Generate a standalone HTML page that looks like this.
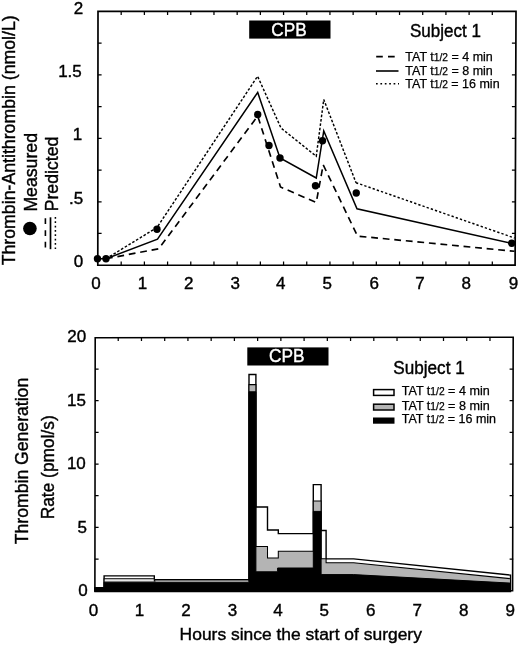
<!DOCTYPE html>
<html><head><meta charset="utf-8"><title>Figure</title>
<style>
html,body{margin:0;padding:0;background:#fff;}
body{width:520px;height:645px;overflow:hidden;font-family:"Liberation Sans", sans-serif;}
svg{display:block;will-change:transform;}
svg text{font-family:"Liberation Sans", sans-serif;}
</style></head><body>
<svg width="520" height="645" viewBox="0 0 520 645">
<rect width="520" height="645" fill="#fff"/>
<!-- top chart -->
<polyline points="106.00,258.75 158.75,248.75 257.70,116.00 280.50,187.00 316.25,202.50 323.20,164.80 357.50,236.10 514.50,251.30" fill="none" stroke="#000" stroke-width="1.65" stroke-dasharray="6.8 4.8" stroke-linejoin="miter"/>
<polyline points="106.00,258.75 157.00,227.50 257.60,76.25 281.00,128.00 316.25,156.25 323.75,99.50 356.00,182.70" fill="none" stroke="#000" stroke-width="1.45" stroke-dasharray="2.6 1.8" stroke-linejoin="miter"/>
<polyline points="356.00,182.70 514.50,238.00" fill="none" stroke="#000" stroke-width="1.45" stroke-dasharray="2.3 2.1"/>
<polyline points="106.00,258.75 157.50,239.25 257.70,92.40 280.00,158.00 316.25,178.00 323.75,131.00 357.00,208.75 512.50,243.50" fill="none" stroke="#000" stroke-width="1.5" stroke-linejoin="miter"/>
<line x1="97.5" y1="258.75" x2="106" y2="258.75" stroke="#000" stroke-width="1.5"/>
<circle cx="97.50" cy="258.75" r="3.7" fill="#000"/>
<circle cx="106.00" cy="258.75" r="3.7" fill="#000"/>
<circle cx="157.00" cy="229.25" r="3.7" fill="#000"/>
<circle cx="257.70" cy="114.50" r="3.7" fill="#000"/>
<circle cx="269.00" cy="145.50" r="3.7" fill="#000"/>
<circle cx="280.00" cy="158.00" r="3.7" fill="#000"/>
<circle cx="315.50" cy="185.75" r="3.7" fill="#000"/>
<circle cx="322.50" cy="140.75" r="3.7" fill="#000"/>
<circle cx="356.25" cy="193.00" r="3.7" fill="#000"/>
<circle cx="511.70" cy="243.25" r="3.7" fill="#000"/>
<polygon points="98,11.45 516,11.4 515.1,265.2 97.8,265.25" fill="none" stroke="#000" stroke-width="1.7"/>
<path d="M121.19 11.45v3.6M121.19 265.20v-3.6M144.39 11.45v3.6M144.39 265.20v-3.6M167.58 11.45v3.6M167.58 265.20v-3.6M190.78 11.45v3.6M190.78 265.20v-3.6M213.97 11.45v3.6M213.97 265.20v-3.6M237.17 11.45v3.6M237.17 265.20v-3.6M260.36 11.45v3.6M260.36 265.20v-3.6M283.56 11.45v3.6M283.56 265.20v-3.6M306.75 11.45v3.6M306.75 265.20v-3.6M329.94 11.45v3.6M329.94 265.20v-3.6M353.14 11.45v3.6M353.14 265.20v-3.6M376.33 11.45v3.6M376.33 265.20v-3.6M399.53 11.45v3.6M399.53 265.20v-3.6M422.72 11.45v3.6M422.72 265.20v-3.6M445.92 11.45v3.6M445.92 265.20v-3.6M469.11 11.45v3.6M469.11 265.20v-3.6M492.31 11.45v3.6M492.31 265.20v-3.6M98.00 43.17h3.6M515.50 43.17h-3.6M98.00 74.89h3.6M515.50 74.89h-3.6M98.00 106.61h3.6M515.50 106.61h-3.6M98.00 138.32h3.6M515.50 138.32h-3.6M98.00 170.04h3.6M515.50 170.04h-3.6M98.00 201.76h3.6M515.50 201.76h-3.6M98.00 233.48h3.6M515.50 233.48h-3.6" stroke="#000" stroke-width="1.25" fill="none"/>
<rect x="249.2" y="20.5" width="81.3" height="18.1" fill="#000"/>
<text x="271.30" y="35.60" font-size="18" textLength="35.4" lengthAdjust="spacingAndGlyphs" fill="#fff" stroke="#fff" stroke-width="0.4">CPB</text>
<text x="410.00" y="36.50" font-size="18" textLength="71" lengthAdjust="spacingAndGlyphs" fill="#000" stroke="#000" stroke-width="0.4">Subject 1</text>
<path d="M376.2 56.6h6.6M388 56.6h6.7" stroke="#000" stroke-width="1.7" fill="none"/>
<path d="M376 71h22.5" stroke="#000" stroke-width="1.6" fill="none"/>
<path d="M376 83.8h23" stroke="#000" stroke-width="1.5" stroke-dasharray="1.7 2.7" fill="none"/>
<text x="405.3" y="61" font-size="12.5" textLength="87.5" lengthAdjust="spacingAndGlyphs" stroke="#000" stroke-width="0.25">TAT t<tspan font-size="10.2">1/2</tspan> = 4 min</text>
<text x="405.3" y="74.5" font-size="12.5" textLength="87.5" lengthAdjust="spacingAndGlyphs" stroke="#000" stroke-width="0.25">TAT t<tspan font-size="10.2">1/2</tspan> = 8 min</text>
<text x="405.3" y="87.9" font-size="12.5" textLength="94.3" lengthAdjust="spacingAndGlyphs" stroke="#000" stroke-width="0.25">TAT t<tspan font-size="10.2">1/2</tspan> = 16 min</text>
<text x="83.30" y="13.85" font-size="17" text-anchor="end" fill="#000" stroke="#000" stroke-width="0.4">2</text>
<text x="81.80" y="77.29" font-size="17" text-anchor="end" fill="#000" stroke="#000" stroke-width="0.4">1.5</text>
<text x="82.10" y="140.32" font-size="17" text-anchor="end" fill="#000" stroke="#000" stroke-width="0.4">1</text>
<text x="83.30" y="204.46" font-size="17" text-anchor="end" fill="#000" stroke="#000" stroke-width="0.4">.5</text>
<text x="83.10" y="267.10" font-size="17" text-anchor="end" fill="#000" stroke="#000" stroke-width="0.4">0</text>
<text x="96.00" y="289.30" font-size="17" text-anchor="middle" fill="#000" stroke="#000" stroke-width="0.4">0</text>
<text x="142.39" y="289.30" font-size="17" text-anchor="middle" fill="#000" stroke="#000" stroke-width="0.4">1</text>
<text x="188.78" y="289.30" font-size="17" text-anchor="middle" fill="#000" stroke="#000" stroke-width="0.4">2</text>
<text x="235.17" y="289.30" font-size="17" text-anchor="middle" fill="#000" stroke="#000" stroke-width="0.4">3</text>
<text x="280.76" y="289.30" font-size="17" text-anchor="middle" fill="#000" stroke="#000" stroke-width="0.4">4</text>
<text x="327.14" y="289.30" font-size="17" text-anchor="middle" fill="#000" stroke="#000" stroke-width="0.4">5</text>
<text x="374.33" y="289.30" font-size="17" text-anchor="middle" fill="#000" stroke="#000" stroke-width="0.4">6</text>
<text x="419.92" y="289.30" font-size="17" text-anchor="middle" fill="#000" stroke="#000" stroke-width="0.4">7</text>
<text x="466.31" y="289.30" font-size="17" text-anchor="middle" fill="#000" stroke="#000" stroke-width="0.4">8</text>
<text x="513.50" y="289.30" font-size="17" text-anchor="middle" fill="#000" stroke="#000" stroke-width="0.4">9</text>
<text x="14.90" y="265.30" font-size="17.8" textLength="250" lengthAdjust="spacingAndGlyphs" transform="rotate(-90 14.90 265.30)" fill="#000" stroke="#000" stroke-width="0.4">Thrombin-Antithrombin (nmol/L)</text>
<text x="36.90" y="211.60" font-size="17.8" textLength="78.6" lengthAdjust="spacingAndGlyphs" transform="rotate(-90 36.90 211.60)" fill="#000" stroke="#000" stroke-width="0.4">Measured</text>
<text x="58.00" y="211.30" font-size="17.8" textLength="74.6" lengthAdjust="spacingAndGlyphs" transform="rotate(-90 58.00 211.30)" fill="#000" stroke="#000" stroke-width="0.4">Predicted</text>
<circle cx="29.9" cy="228.5" r="6.8" fill="#000"/>
<path d="M45.4 218.2v5.9M45.4 230.2v5.8M45.4 241.8v5.8" stroke="#000" stroke-width="1.6" fill="none"/>
<path d="M50.5 217.3v31.9" stroke="#000" stroke-width="1.7" fill="none"/>
<path d="M55.4 217.0v32" stroke="#000" stroke-width="1.5" stroke-dasharray="1.7 2.64" fill="none"/>
<!-- bottom chart -->
<polygon points="95.00,591.45 95.00,587.60 104.10,587.60 104.10,575.90 154.30,575.90 154.30,579.80 249.00,579.80 249.00,374.50 255.90,374.50 255.90,507.00 267.50,507.00 267.50,530.00 278.30,530.00 278.30,533.60 313.30,533.60 313.30,484.60 321.10,484.60 321.10,530.50 326.10,530.50 326.10,558.90 353.60,558.90 510.50,575.10 510.50,591.45" fill="#fff" stroke="#000" stroke-width="1.4" stroke-linejoin="miter"/>
<polygon points="95.00,591.45 95.00,587.60 104.10,587.60 104.10,578.70 154.30,578.70 154.30,581.00 249.00,581.00 249.00,384.60 255.90,384.60 255.90,546.50 267.50,546.50 267.50,558.00 278.30,558.00 278.30,551.20 313.30,551.20 313.30,500.90 321.10,500.90 321.10,558.70 326.10,558.70 326.10,562.80 353.60,562.80 510.50,578.70 510.50,591.45" fill="#b4b4b4" stroke="#000" stroke-width="1.05" stroke-linejoin="miter"/>
<polygon points="95.00,591.45 95.00,587.60 104.10,587.60 104.10,582.20 249.00,582.20 249.00,391.80 255.90,391.80 255.90,571.80 277.60,571.80 277.60,568.00 313.30,568.00 313.30,511.40 321.10,511.40 321.10,574.60 353.60,574.60 510.50,583.10 510.50,591.45" fill="#000" stroke="#000" stroke-width="1.0" stroke-linejoin="miter"/>
<path d="M155.5 581.15H248.2" stroke="#e0e0e0" stroke-width="0.9" fill="none"/>
<path d="M104.89999999999999 580.35H153.5" stroke="#e6e6e6" stroke-width="1.5" fill="none"/>
<polygon points="95.2,337.7 513.2,337.3 512.6,590.8 94.9,590.75" fill="none" stroke="#000" stroke-width="1.6"/>
<path d="M118.23 337.40v3.6M118.23 590.75v-3.6M141.47 337.40v3.6M141.47 590.75v-3.6M164.70 337.40v3.6M164.70 590.75v-3.6M187.93 337.40v3.6M187.93 590.75v-3.6M211.17 337.40v3.6M211.17 590.75v-3.6M234.40 337.40v3.6M234.40 590.75v-3.6M257.63 337.40v3.6M257.63 590.75v-3.6M280.87 337.40v3.6M280.87 590.75v-3.6M304.10 337.40v3.6M304.10 590.75v-3.6M327.33 337.40v3.6M327.33 590.75v-3.6M350.57 337.40v3.6M350.57 590.75v-3.6M373.80 337.40v3.6M373.80 590.75v-3.6M397.03 337.40v3.6M397.03 590.75v-3.6M420.27 337.40v3.6M420.27 590.75v-3.6M443.50 337.40v3.6M443.50 590.75v-3.6M466.73 337.40v3.6M466.73 590.75v-3.6M489.97 337.40v3.6M489.97 590.75v-3.6M95.00 369.07h3.6M513.20 369.07h-3.6M95.00 400.74h3.6M513.20 400.74h-3.6M95.00 432.41h3.6M513.20 432.41h-3.6M95.00 464.07h3.6M513.20 464.07h-3.6M95.00 495.74h3.6M513.20 495.74h-3.6M95.00 527.41h3.6M513.20 527.41h-3.6M95.00 559.08h3.6M513.20 559.08h-3.6" stroke="#000" stroke-width="1.25" fill="none"/>
<rect x="247.3" y="347.4" width="81.2" height="18.1" fill="#000"/>
<text x="268.90" y="362.20" font-size="18" textLength="35.6" lengthAdjust="spacingAndGlyphs" fill="#fff" stroke="#fff" stroke-width="0.4">CPB</text>
<text x="393.30" y="373.70" font-size="18" textLength="71.4" lengthAdjust="spacingAndGlyphs" fill="#000" stroke="#000" stroke-width="0.4">Subject 1</text>
<rect x="373.6" y="389.6" width="20.4" height="5.8" fill="#fff" stroke="#000" stroke-width="1.5"/>
<rect x="373.6" y="404.2" width="20.4" height="5.8" fill="#b4b4b4" stroke="#000" stroke-width="1.5"/>
<rect x="373" y="417.5" width="21.5" height="6.2" fill="#000"/>
<text x="401.7" y="395.2" font-size="12.5" textLength="88" lengthAdjust="spacingAndGlyphs" stroke="#000" stroke-width="0.25">TAT t<tspan font-size="10.2">1/2</tspan> = 4 min</text>
<text x="401.7" y="409.5" font-size="12.5" textLength="88" lengthAdjust="spacingAndGlyphs" stroke="#000" stroke-width="0.25">TAT t<tspan font-size="10.2">1/2</tspan> = 8 min</text>
<text x="401.7" y="423" font-size="12.5" textLength="94.3" lengthAdjust="spacingAndGlyphs" stroke="#000" stroke-width="0.25">TAT t<tspan font-size="10.2">1/2</tspan> = 16 min</text>
<text x="86.10" y="342.10" font-size="17" text-anchor="end" fill="#000" stroke="#000" stroke-width="0.4">20</text>
<text x="86.00" y="405.74" font-size="17" text-anchor="end" fill="#000" stroke="#000" stroke-width="0.4">15</text>
<text x="85.80" y="469.27" font-size="17" text-anchor="end" fill="#000" stroke="#000" stroke-width="0.4">10</text>
<text x="87.00" y="532.81" font-size="17" text-anchor="end" fill="#000" stroke="#000" stroke-width="0.4">5</text>
<text x="87.70" y="596.45" font-size="17" text-anchor="end" fill="#000" stroke="#000" stroke-width="0.4">0</text>
<text x="93.40" y="615.60" font-size="17" text-anchor="middle" fill="#000" stroke="#000" stroke-width="0.4">0</text>
<text x="139.47" y="615.60" font-size="17" text-anchor="middle" fill="#000" stroke="#000" stroke-width="0.4">1</text>
<text x="185.93" y="615.60" font-size="17" text-anchor="middle" fill="#000" stroke="#000" stroke-width="0.4">2</text>
<text x="232.40" y="615.60" font-size="17" text-anchor="middle" fill="#000" stroke="#000" stroke-width="0.4">3</text>
<text x="277.87" y="615.60" font-size="17" text-anchor="middle" fill="#000" stroke="#000" stroke-width="0.4">4</text>
<text x="324.33" y="615.60" font-size="17" text-anchor="middle" fill="#000" stroke="#000" stroke-width="0.4">5</text>
<text x="370.80" y="615.60" font-size="17" text-anchor="middle" fill="#000" stroke="#000" stroke-width="0.4">6</text>
<text x="417.27" y="615.60" font-size="17" text-anchor="middle" fill="#000" stroke="#000" stroke-width="0.4">7</text>
<text x="463.73" y="615.60" font-size="17" text-anchor="middle" fill="#000" stroke="#000" stroke-width="0.4">8</text>
<text x="510.20" y="615.60" font-size="17" text-anchor="middle" fill="#000" stroke="#000" stroke-width="0.4">9</text>
<text x="28.30" y="544.20" font-size="17.8" textLength="166.4" lengthAdjust="spacingAndGlyphs" transform="rotate(-90 28.30 544.20)" fill="#000" stroke="#000" stroke-width="0.4">Thrombin Generation</text>
<text x="53.60" y="519.30" font-size="17.8" textLength="104" lengthAdjust="spacingAndGlyphs" transform="rotate(-90 53.60 519.30)" fill="#000" stroke="#000" stroke-width="0.4">Rate (pmol/s)</text>
<text x="179.60" y="639.60" font-size="17.3" textLength="242.3" lengthAdjust="spacingAndGlyphs" fill="#000" stroke="#000" stroke-width="0.4">Hours since the start of surgery</text>
</svg></body></html>
